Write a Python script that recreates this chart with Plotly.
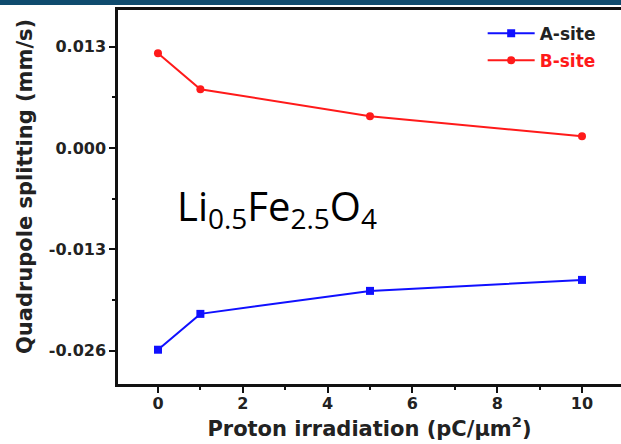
import plotly.graph_objects as go

dose = [0, 1, 5, 10]
a_site = [-0.0259, -0.0213, -0.01835, -0.01694]
b_site = [0.01215, 0.00753, 0.00407, 0.00150]

x_ticks = [0, 2, 4, 6, 8, 10]
y_tickvals = [0.013, 0.0, -0.013, -0.026]
y_ticktext = ["0.013", "0.000", "-0.013", "-0.026"]

W, H = 621, 444
L, R, T, B = 118, 0, 10, 60
pw = W - L - R
ph = H - T - B

fig = go.Figure()
fig.add_trace(go.Scatter(
    x=dose, y=a_site, mode="lines+markers", name="A-site", legendgroup="a",
    line=dict(color="#1010ff", width=2),
    marker=dict(symbol="square", size=8, color="#1010ff"),
))
fig.add_trace(go.Scatter(
    x=dose, y=b_site, mode="lines+markers", legendgroup="b",
    name="<span style='color:#ff1a1a'>B-site</span>",
    line=dict(color="#ff1a1a", width=2),
    marker=dict(symbol="circle", size=8, color="#ff1a1a"),
))

axis_font = dict(family="DejaVu Sans", size=16, color="#222", weight="bold")
title_font = dict(family="DejaVu Sans", size=21, color="#222", weight="bold")

fig.update_layout(
    width=W, height=H,
    margin=dict(l=L, r=R, t=T, b=B, autoexpand=False),
    paper_bgcolor="white", plot_bgcolor="white",
    showlegend=True,
    legend=dict(
        x=0.725, y=0.985, xanchor="left", yanchor="top",
        bgcolor="rgba(0,0,0,0)",
        font=dict(family="DejaVu Sans", size=17, color="#222", weight="bold"),
        traceorder="grouped", tracegroupgap=2, itemwidth=47,
    ),
    xaxis=dict(
        range=[-0.943, 10.92], tickvals=x_ticks, automargin=False,
        showline=True, linecolor="#111", linewidth=2.5, mirror=True,
        ticks="outside", ticklen=6, tickwidth=2, tickcolor="#111",
        minor=dict(dtick=1, tick0=0, ticks="outside", ticklen=3, tickwidth=2, tickcolor="#111"),
        showgrid=False, zeroline=False,
        tickfont=axis_font, ticklabelstandoff=-3,
        title=dict(text="Proton irradiation (pC/μm<sup>2</sup>)", font=title_font, standoff=8),
    ),
    yaxis=dict(
        range=[-0.0303, 0.0177], tickvals=y_tickvals, ticktext=y_ticktext, automargin=False,
        showline=True, linecolor="#111", linewidth=2.5, mirror=False,
        ticks="outside", ticklen=6, tickwidth=2, tickcolor="#111",
        minor=dict(dtick=0.0065, tick0=0, ticks="outside", ticklen=3, tickwidth=2, tickcolor="#111"),
        showgrid=False, zeroline=False,
        tickfont=axis_font,
    ),
    annotations=[
        dict(
            x=0.316, y=-0.0076, xref="paper", yref="y",
            text="Li<sub>0.5</sub>Fe<sub>2.5</sub>O<sub>4</sub>",
            showarrow=False, font=dict(family="Open Sans, Liberation Sans", size=40, color="black"),
            xanchor="center", yanchor="middle",
        ),
        dict(
            x=(25 - L) / pw, y=1 - (187 - T) / ph, xref="paper", yref="paper",
            text="Quadrupole splitting (mm/s)", textangle=-90,
            showarrow=False, font=title_font,
            xanchor="center", yanchor="middle",
        ),
    ],
    shapes=[dict(
        type="rect", xref="paper", yref="paper",
        x0=-L / pw, x1=1.0, y0=1 + 5 / ph, y1=1 + 10 / ph,
        fillcolor="#0f4b6e", line=dict(width=0), layer="above",
    )],
)

fig.write_html(
    "out.html",
    config={"displayModeBar": False},
    post_script="document.body.style.margin='0';document.body.style.overflow='hidden';",
)
